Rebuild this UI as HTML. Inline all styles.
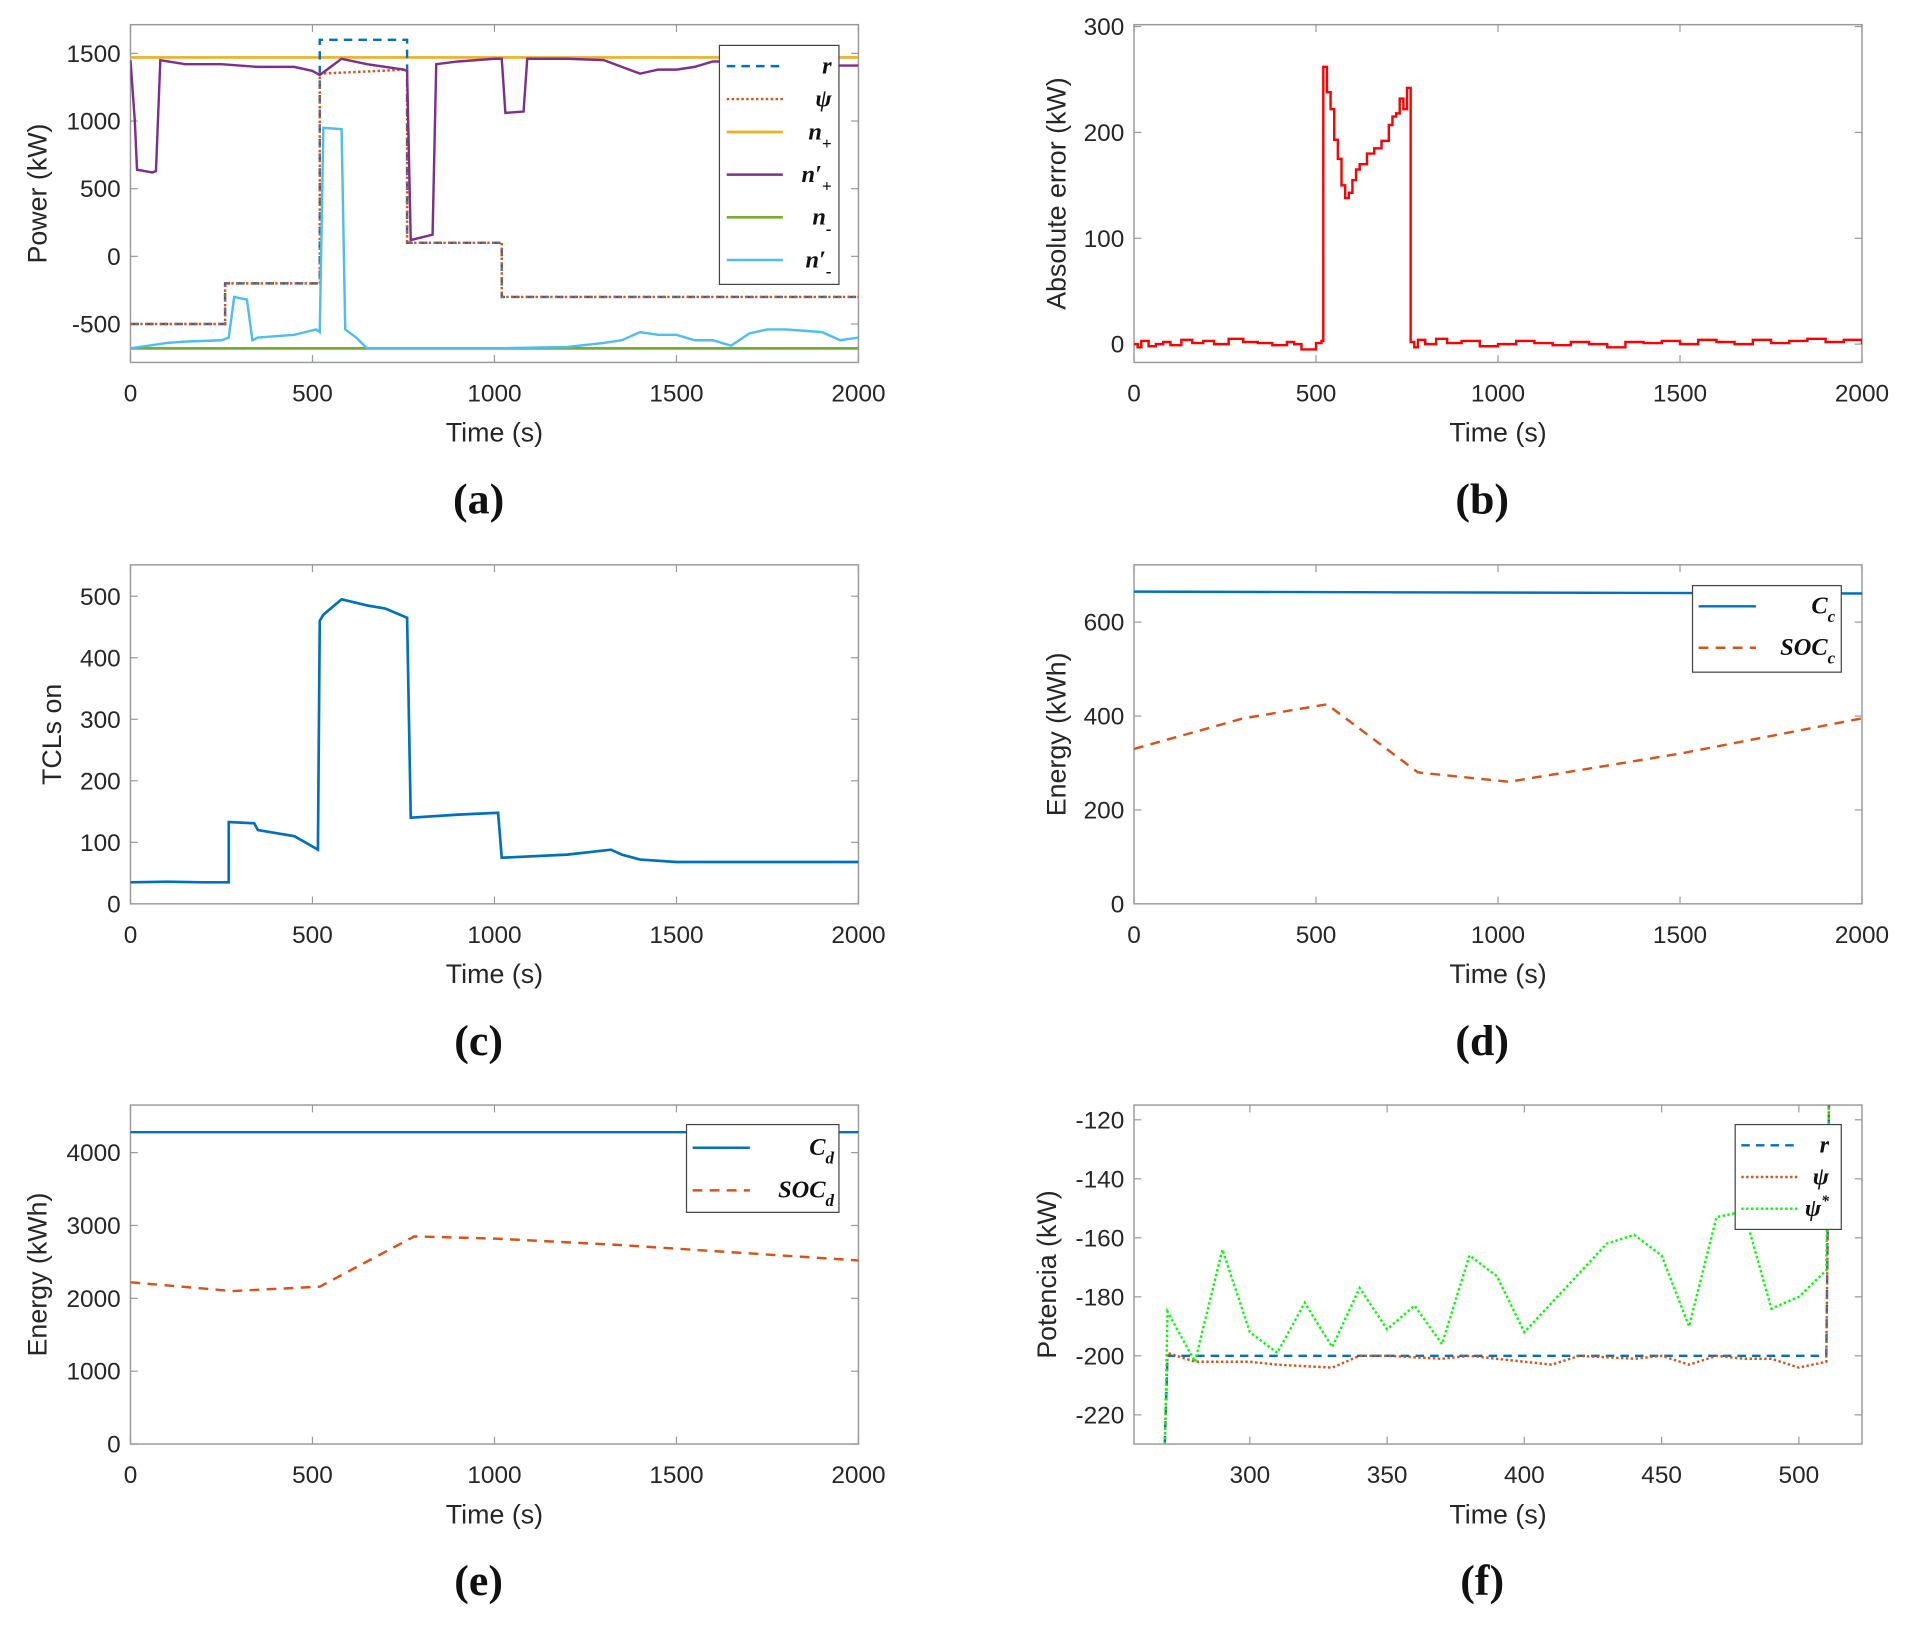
<!DOCTYPE html>
<html><head><meta charset="utf-8">
<style>
html,body{margin:0;padding:0;background:#fff;}
svg{display:block;}
text{font-family:"Liberation Sans",sans-serif;fill:#262626;}
.tick{font-size:20px;font-family:"Liberation Sans",sans-serif;}
.ttl{font-size:22px;}
.pl{font-family:"Liberation Serif",serif;font-size:36px;font-weight:bold;fill:#111;}
.lg{font-family:"Liberation Serif",serif;font-style:italic;font-weight:bold;font-size:20px;fill:#111;}
</style></head>
<body>
<svg id="fig" width="1912" height="1626" viewBox="0 0 1568 1333" xmlns="http://www.w3.org/2000/svg"></svg>
<script>
// ---------- data ----------
// panel a
const aR_t=[0,260,260,520,520,760,760,1020,1020,2000];
const aR_v=[-500,-500,-200,-200,1600,1600,100,100,-300,-300];
const aPsi_t=[0,260,260,520,520,760,760,1020,1020,2000];
const aPsi_v=[-500,-500,-200,-200,1350,1380,100,100,-300,-300];
const aNplus=1470;
const aNminus=-680;
const aNp_t=[0,12,18,60,70,82,150,250,350,450,500,520,580,650,750,760,770,830,840,900,1000,1020,1030,1080,1090,1200,1300,1350,1400,1450,1500,1550,1600,1700,1800,1900,2000];
const aNp_v=[1450,1000,640,620,630,1450,1420,1420,1400,1400,1370,1340,1460,1420,1380,1370,120,160,1420,1440,1460,1460,1060,1070,1460,1460,1450,1400,1350,1380,1380,1400,1440,1440,1440,1410,1410];
const aNm_t=[0,50,100,150,250,270,285,320,335,350,400,450,480,510,520,530,580,590,620,650,800,1000,1200,1300,1350,1400,1450,1500,1550,1600,1650,1700,1750,1800,1850,1900,1950,2000];
const aNm_v=[-680,-660,-640,-630,-620,-600,-300,-320,-620,-600,-590,-580,-560,-540,-560,950,940,-540,-600,-680,-680,-680,-670,-640,-620,-560,-580,-580,-620,-620,-660,-570,-540,-540,-550,-560,-620,-600];
// panel b
const bT=[0,10,20,40,60,80,100,130,160,190,220,260,300,340,380,420,440,460,500,515,520,530,540,550,560,570,580,590,600,610,620,640,660,680,700,710,720,730,740,750,760,770,780,800,830,860,900,950,1000,1050,1100,1150,1200,1250,1300,1350,1400,1450,1500,1550,1600,1650,1700,1750,1800,1850,1900,1950,2000];
const bV=[0,-3,3,-2,0,2,-1,4,1,3,0,5,2,1,-1,2,0,-5,1,3,262,238,222,193,175,150,138,143,155,165,170,180,185,192,207,215,218,232,222,242,2,-3,4,0,5,1,3,-2,0,3,1,-1,2,0,-3,2,1,3,0,4,2,0,4,1,3,5,2,4,0];
// panel c
const cT=[0,100,200,270,270,340,350,450,480,515,520,530,580,650,700,760,770,900,1010,1020,1200,1320,1350,1400,1500,2000];
const cV=[35,36,35,35,133,131,120,110,100,88,460,470,495,485,480,465,140,145,148,75,80,88,80,72,68,68];
// panel d
const dCc_t=[0,2000];
const dCc_v=[665,661];
const dSoc_t=[0,300,530,780,1030,1500,2000];
const dSoc_v=[330,395,425,280,260,320,395];
// panel e
const eCd_t=[0,2000];
const eCd_v=[4280,4280];
const eSoc_t=[0,280,520,780,1000,1350,2000];
const eSoc_v=[2220,2100,2160,2850,2820,2730,2520];
// panel f
const fR_t=[269,270,510,511];
const fR_v=[-230,-200,-200,-110];
const fPsi_t=[269,270,280,300,310,330,340,350,370,380,400,410,420,440,450,460,470,480,490,500,510,511];
const fPsi_v=[-230,-199,-202,-202,-203,-204,-200,-200,-201,-200,-202,-203,-200,-201,-200,-203,-200,-201,-201,-204,-202,-110];
const fPs_t=[269,270,280,290,300,310,320,330,340,350,360,370,380,390,400,410,420,430,440,450,460,470,480,490,500,510,511];
const fPs_v=[-230,-185,-202,-164,-192,-199,-182,-197,-177,-191,-183,-196,-166,-173,-192,-182,-172,-162,-159,-166,-190,-153,-151,-184,-180,-171,-110];

// ---------- helpers ----------
const NS="http://www.w3.org/2000/svg";
const svg=document.getElementById('fig');
function el(tag,attrs,parent){const e=document.createElementNS(NS,tag);for(const k in attrs)e.setAttribute(k,attrs[k]);(parent||svg).appendChild(e);return e;}

function makeAxes(id,box,xr,yr,xticks,yticks,ytitle,letter,ytx){
  const g=el('g',{});
  
  
  const sx=v=>box.x0+(v-xr[0])/(xr[1]-xr[0])*(box.x1-box.x0);
  const sy=v=>box.y1-(v-yr[0])/(yr[1]-yr[0])*(box.y1-box.y0);
  const cp=el('clipPath',{id:'clip-'+id},g);
  el('rect',{x:box.x0,y:box.y0,width:box.x1-box.x0,height:box.y1-box.y0},cp);
  const frame=el('rect',{x:box.x0,y:box.y0,width:box.x1-box.x0,height:box.y1-box.y0,fill:'#fff',stroke:'#9a9a9a','stroke-width':1.2},g);
  
  
  xticks.forEach(v=>{const x=sx(v);
    el('line',{x1:x,x2:x,y1:box.y1,y2:box.y1-6,stroke:'#9a9a9a'},g);
    el('line',{x1:x,x2:x,y1:box.y0,y2:box.y0+6,stroke:'#9a9a9a'},g);
    const t=el('text',{x:x,y:box.y1+32,'text-anchor':'middle',class:'tick'},g);t.textContent=v;
    
    
  });
  yticks.forEach(v=>{const y=sy(v);
    el('line',{x1:box.x0,x2:box.x0+6,y1:y,y2:y,stroke:'#9a9a9a'},g);
    el('line',{x1:box.x1,x2:box.x1-6,y1:y,y2:y,stroke:'#9a9a9a'},g);
    const t=el('text',{x:box.x0-8,y:y+7,'text-anchor':'end',class:'tick'},g);t.textContent=v;
    
    
  });
  const cx=(box.x0+box.x1)/2;
  const xt=el('text',{x:cx,y:box.y1+65,'text-anchor':'middle',class:'ttl'},g);xt.textContent='Time (s)';
  
  
  const cy=(box.y0+box.y1)/2;
  const yt=el('text',{x:ytx,y:cy,'text-anchor':'middle',class:'ttl',transform:`rotate(-90 ${ytx} ${cy})`},g);yt.textContent=ytitle;
  
  
  const pl=el('text',{x:cx-13,y:box.y1+124,'text-anchor':'middle',class:'pl'},g);pl.textContent='('+letter+')';
  
  
  const plot=el('g',{'clip-path':`url(#clip-${id})`},g);
  return {sx,sy,plot,g};
}
function line(ax,ts,vs,style,name,step){
  let d='';
  for(let i=0;i<ts.length;i++){
    const x=ax.sx(ts[i]),y=ax.sy(vs[i]);
    if(i===0)d+=`M${x},${y}`;
    else if(step){d+=`H${x}V${y}`;}
    else d+=`L${x},${y}`;
  }
  const p=el('path',Object.assign({d:d,fill:'none'},style),ax.plot);
  
  
  return p;
}
function legend(name,box,entries){
  const g=el('g',{});
  
  
  el('rect',{x:box.x,y:box.y,width:box.w,height:box.h,fill:'#fff',stroke:'#444','stroke-width':1},g);
  entries.forEach(e=>{
    const ln=el('line',Object.assign({x1:box.lx0,x2:box.lx1,y1:e.y,y2:e.y},e.style),g);
    
    
    const t=el('text',{x:box.tx,y:e.y+6,class:'lg','text-anchor':'end'},g);
    t.innerHTML=e.html;
    
    
  });
}
const BLUE='#0072bd',RED='#d95319',YEL='#edb120',PUR='#7e2f8e',GRN='#77ac30',CYA='#4dbeee';
const sDash={stroke:BLUE,'stroke-width':2,'stroke-dasharray':'7,5'};
const sDot={stroke:RED,'stroke-width':2,'stroke-dasharray':'2,2'};

// ---------- panel a ----------
const A=makeAxes('a',{x0:107,x1:704,y0:20,y1:297},[0,2000],[-784,1712],[0,500,1000,1500,2000],[-500,0,500,1000,1500],'Power (kW)','a',38);
line(A,[0,2000],[aNplus,aNplus],{stroke:YEL,'stroke-width':2.2},'n-plus-line');
line(A,[0,2000],[aNminus,aNminus],{stroke:GRN,'stroke-width':2.2},'n-minus-line');
line(A,aR_t,aR_v,sDash,'r-line');
line(A,aPsi_t,aPsi_v,sDot,'psi-line');
line(A,aNp_t,aNp_v,{stroke:PUR,'stroke-width':2},'n-prime-plus-line');
line(A,aNm_t,aNm_v,{stroke:CYA,'stroke-width':2},'n-prime-minus-line');
legend('legend-a',{x:590,y:37,w:98,h:196,lx0:596,lx1:642,tx:682},[
 {y:54,style:sDash,html:'r'},
 {y:81,style:sDot,html:'ψ'},
 {y:108,style:{stroke:YEL,'stroke-width':2.2},html:'n<tspan dy="8" font-size="14">+</tspan>'},
 {y:143,style:{stroke:PUR,'stroke-width':2},html:'n′<tspan dy="8" font-size="14">+</tspan>'},
 {y:178,style:{stroke:GRN,'stroke-width':2.2},html:'n<tspan dy="8" font-size="14">-</tspan>'},
 {y:213,style:{stroke:CYA,'stroke-width':2},html:'n′<tspan dy="8" font-size="14">-</tspan>'}]);

// ---------- panel b ----------
const B=makeAxes('b',{x0:930,x1:1527,y0:20,y1:297},[0,2000],[-17.3,301.8],[0,500,1000,1500,2000],[0,100,200,300],'Absolute error (kW)','b',874);
line(B,bT,bV,{stroke:'#ff0000','stroke-width':2},'absolute-error-line',true);

// ---------- panel c ----------
const C=makeAxes('c',{x0:107,x1:704,y0:463,y1:741},[0,2000],[0,551],[0,500,1000,1500,2000],[0,100,200,300,400,500],'TCLs on','c',50);
line(C,cT,cV,{stroke:BLUE,'stroke-width':2.2},'tcls-on-line');

// ---------- panel d ----------
const D=makeAxes('d',{x0:930,x1:1527,y0:463,y1:741},[0,2000],[0,722],[0,500,1000,1500,2000],[0,200,400,600],'Energy (kWh)','d',874);
line(D,dCc_t,dCc_v,{stroke:BLUE,'stroke-width':2},'cc-line');
line(D,dSoc_t,dSoc_v,{stroke:RED,'stroke-width':2,'stroke-dasharray':'8,6'},'soc-c-line');
legend('legend-d',{x:1388,y:480,w:122,h:71,lx0:1393,lx1:1440,tx:1505},[
 {y:497,style:{stroke:BLUE,'stroke-width':2},html:'C<tspan dy="7" font-size="14">c</tspan>'},
 {y:531,style:{stroke:RED,'stroke-width':2,'stroke-dasharray':'8,6'},html:'SOC<tspan dy="7" font-size="14">c</tspan>'}]);

// ---------- panel e ----------
const E=makeAxes('e',{x0:107,x1:704,y0:906,y1:1184},[0,2000],[0,4653],[0,500,1000,1500,2000],[0,1000,2000,3000,4000],'Energy (kWh)','e',38);
line(E,eCd_t,eCd_v,{stroke:BLUE,'stroke-width':2},'cd-line');
line(E,eSoc_t,eSoc_v,{stroke:RED,'stroke-width':2,'stroke-dasharray':'8,6'},'soc-d-line');
legend('legend-e',{x:563,y:922,w:125,h:72,lx0:568,lx1:615,tx:684},[
 {y:941,style:{stroke:BLUE,'stroke-width':2},html:'C<tspan dy="7" font-size="14">d</tspan>'},
 {y:976,style:{stroke:RED,'stroke-width':2,'stroke-dasharray':'8,6'},html:'SOC<tspan dy="7" font-size="14">d</tspan>'}]);

// ---------- panel f ----------
const F=makeAxes('f',{x0:930,x1:1527,y0:906,y1:1184},[257.8,523],[-229.9,-115],[300,350,400,450,500],[-220,-200,-180,-160,-140,-120],'Potencia (kW)','f',866);
line(F,fR_t,fR_v,sDash,'r-line-f');
line(F,fPsi_t,fPsi_v,sDot,'psi-line-f');
line(F,fPs_t,fPs_v,{stroke:'#00ff00','stroke-width':2,'stroke-dasharray':'2,2'},'psi-star-line');
legend('legend-f',{x:1423,y:922,w:87,h:86,lx0:1428,lx1:1476,tx:1500},[
 {y:939,style:sDash,html:'r'},
 {y:965,style:sDot,html:'ψ'},
 {y:991,style:{stroke:'#00ff00','stroke-width':2,'stroke-dasharray':'2,2'},html:'ψ<tspan dy="-8" font-size="13">*</tspan>'}]);
</script>
</body></html>
